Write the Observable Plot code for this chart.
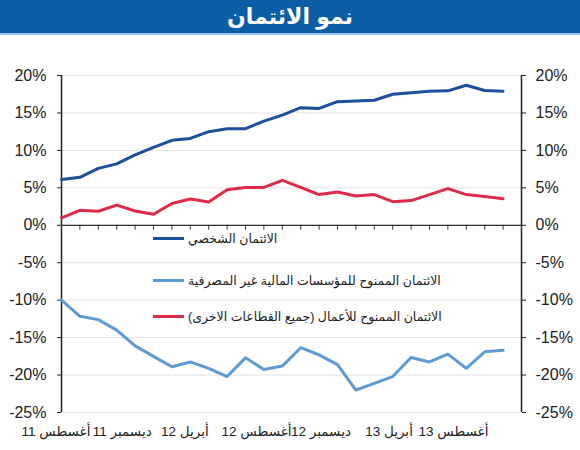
<!DOCTYPE html>
<html><head><meta charset="utf-8">
<script src="https://cdn.jsdelivr.net/npm/d3@7"></script>
<script src="https://cdn.jsdelivr.net/npm/@observablehq/plot@0.6"></script>
<style>
body{margin:0;background:#fff;font-family:"Liberation Sans","DejaVu Sans",sans-serif;}
#wrap{position:relative;width:580px;}
#title{height:33px;background:#0b5ea6;border-bottom:2px solid #9cc3e6;color:#fff;font-weight:bold;font-size:22px;text-align:center;line-height:33px;direction:rtl;}
#legend{position:absolute;left:153px;top:0;font-size:12.5px;color:#222;}
.item{position:absolute;left:0;display:flex;align-items:center;white-space:nowrap;}
.sw{width:31px;height:3px;margin-right:4px;}
.tx{direction:rtl;}
</style></head>
<body><div id="wrap"><div id="title">نمو الائتمان</div><div id="chart"></div><div id="legend"></div></div>
<script>
const months = ["أغسطس 11","سبتمبر 11","أكتوبر 11","نوفمبر 11","ديسمبر 11","يناير 12","فبراير 12","مارس 12","أبريل 12","مايو 12","يونيو 12","يوليو 12","أغسطس 12","سبتمبر 12","أكتوبر 12","نوفمبر 12","ديسمبر 12","يناير 13","فبراير 13","مارس 13","أبريل 13","مايو 13","يونيو 13","يوليو 13","أغسطس 13"];
const personal = [6.1,6.4,7.6,8.2,9.4,10.4,11.35,11.6,12.5,12.9,12.9,13.9,14.7,15.7,15.6,16.5,16.6,16.7,17.5,17.7,17.9,17.95,18.7,18.0,17.9];
const nbfi = [-10.0,-12.15,-12.6,-14.0,-16.1,-17.5,-18.9,-18.25,-19.1,-20.2,-17.7,-19.25,-18.8,-16.35,-17.3,-18.6,-22.0,-21.1,-20.2,-17.65,-18.25,-17.2,-19.1,-16.9,-16.7];
const business = [1.0,2.0,1.87,2.7,1.9,1.47,2.9,3.5,3.1,4.75,5.05,5.05,6.0,5.05,4.1,4.45,3.9,4.1,3.15,3.3,4.1,4.9,4.1,3.85,3.55];
const seriesNames = ["الائتمان الشخصي","الائتمان الممنوح للمؤسسات المالية غير المصرفية","الائتمان الممنوح للأعمال (جميع القطاعات الاخرى)"];
const seriesColors = ["#1c4f9c","#5f9bd3","#df2a4c"];
const yTicks = [20,15,10,5,0,-5,-10,-15,-20,-25];
const xLabels = ["أغسطس 11","ديسمبر 11","أبريل 12","أغسطس 12","ديسمبر 12","أبريل 13","أغسطس 13"];
const xLabelAt = [-0.3,3.3,6.7,10.6,14.1,17.8,21.3];
const legendAt = [-2.0,-7.6,-12.5];

const rows = [];
[personal, nbfi, business].forEach((s, k) => s.forEach((v, i) => rows.push({i, v, k})));
const slots = d3.range(months.length + 1);

const W = 580, H = 415, mt = 40, mb = 38, ml = 61, mr = 59;
const chart = Plot.plot({
  width: W, height: H, marginTop: mt, marginBottom: mb, marginLeft: ml, marginRight: mr,
  style: {fontFamily: "Liberation Sans, DejaVu Sans, sans-serif", fontSize: "16px", color: "#222", background: "#fff"},
  x: {domain: [0, months.length], axis: null},
  y: {domain: [-25, 20], axis: null},
  marks: [
    Plot.gridY(yTicks, {stroke: "#e2e2e2", strokeOpacity: 1, strokeWidth: 1}),
    Plot.axisY(yTicks, {anchor: "left", tickSize: 4, tickPadding: 11, tickFormat: d => d + "%", fontSize: 16, label: null, stroke: "#222"}),
    Plot.axisY(yTicks, {anchor: "right", tickSize: 4, tickPadding: 10, tickFormat: d => d + "%", fontSize: 16, label: null, stroke: "#222"}),
    Plot.ruleX([0, months.length], {y1: -25, y2: 20, stroke: "#222", strokeWidth: 1.5}),
    Plot.ruleY([0], {stroke: "#333", strokeWidth: 1.2}),
    Plot.ruleX(slots, {x: d => d, y1: 0, y2: -0.65, stroke: "#333", strokeWidth: 1}),
    Plot.axisX(xLabelAt, {anchor: "bottom", tickSize: 0, tickPadding: 14, tickFormat: (d, i) => xLabels[i], fontSize: 13.5, label: null}),
    Plot.line(rows, {x: "i", y: "v", z: "k", stroke: d => seriesColors[d.k], strokeWidth: 3, strokeLinejoin: "round"}),
  ]
});
document.getElementById("chart").appendChild(chart);

// legend positioned by the chart's own y scale
const ys = chart.scale("y");
const top0 = 35;
const lg = document.getElementById("legend");
seriesNames.forEach((n, k) => {
  const it = document.createElement("div");
  it.className = "item";
  it.style.top = (top0 + ys.apply(legendAt[k]) - 9) + "px";
  it.innerHTML = `<span class="sw" style="background:${seriesColors[k]}"></span><span class="tx">${n}</span>`;
  lg.appendChild(it);
});
</script></body></html>
